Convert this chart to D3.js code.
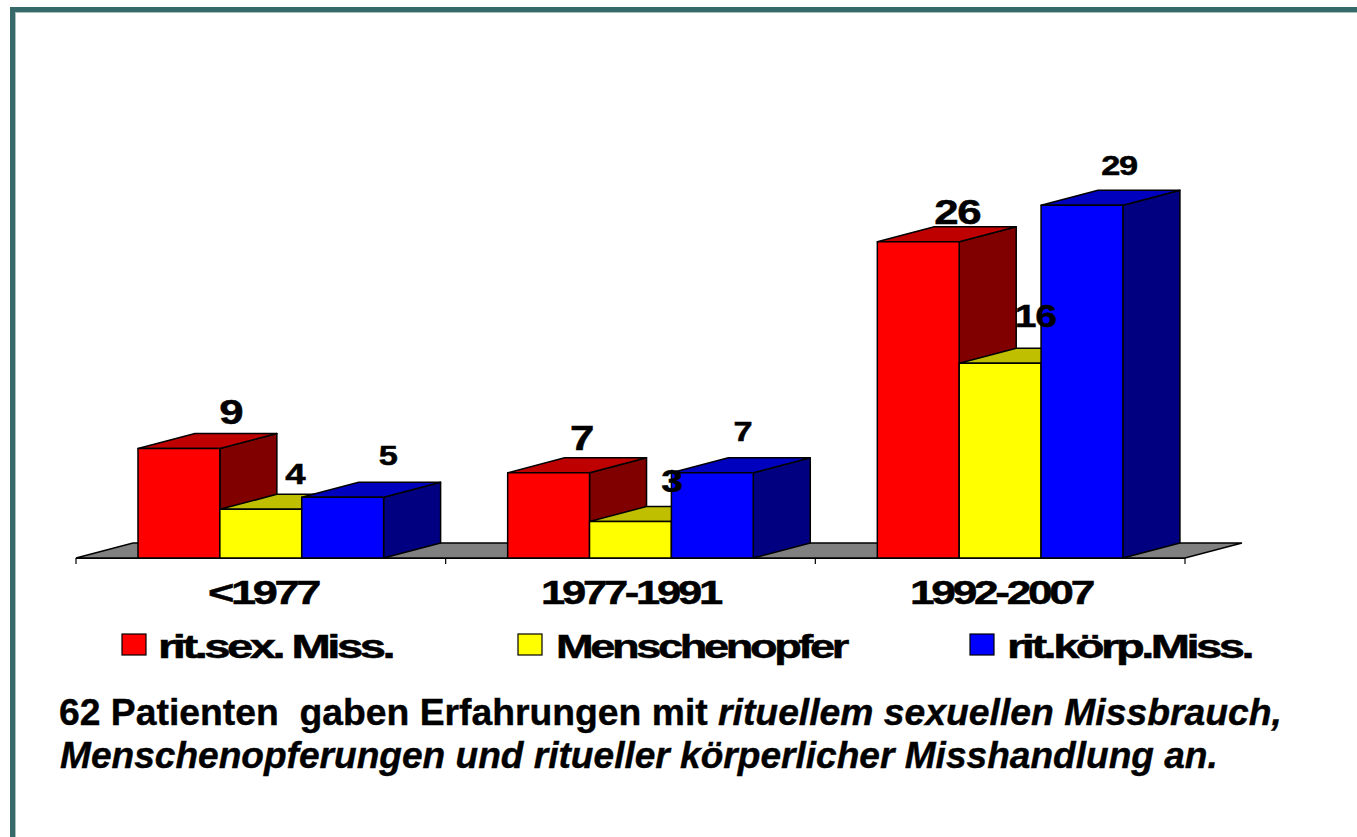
<!DOCTYPE html>
<html><head><meta charset="utf-8">
<script src="https://cdn.jsdelivr.net/npm/d3@7"></script>
<style>html,body{margin:0;padding:0;background:#fff}svg{display:block}text{font-family:"Liberation Sans",Arial,sans-serif;font-weight:bold;fill:#000}</style>
</head><body><svg id="c" width="1357" height="837"></svg>
<script>
const categories = ["<1977", "1977-1991", "1992-2007"];
const seriesNames = ["rit.sex. Miss.", "Menschenopfer", "rit.körp.Miss."];
const sexValues = [9, 7, 26];
const opferValues = [4, 3, 16];
const koerpValues = [5, 7, 29];
const captionLine1 = [["62 Patienten  gaben Erfahrungen mit ", false], ["rituellem sexuellen Missbrauch,", true]];
const captionLine2 = "Menschenopferungen und ritueller körperlicher Misshandlung an.";

const allValues = [sexValues, opferValues, koerpValues];
const colors = [
  {front:"#ff0000", top:"#bf0000", side:"#800000"},
  {front:"#ffff00", top:"#bfbf00", side:"#808000"},
  {front:"#0000ff", top:"#0000bf", side:"#000080"}];
const svg = d3.select("#c");
const baseY = 558, dx = 57, dy = -15;
const x0 = d3.scaleBand().domain(categories).range([76, 1185]);
const x1 = d3.scaleBand().domain(seriesNames).range([62, 307.6]);
const y = d3.scaleLinear().domain([0, 30]).range([baseY, baseY - 365]);

// frame
svg.append("rect").attr("x",15.5).attr("y",12.5).attr("width",1400).attr("height",900).attr("fill","none").attr("stroke","#a9c0bd").attr("stroke-width",1);
svg.append("rect").attr("x",10).attr("y",7).attr("width",5).attr("height",830).attr("fill","#38696a");
svg.append("rect").attr("x",10).attr("y",7).attr("width",1347).attr("height",5).attr("fill","#38696a");

// floor
const line = d3.line();
svg.append("path").attr("d", line([[76,baseY],[76+dx,baseY+dy],[1185+dx,baseY+dy],[1185,baseY]])+"Z")
  .attr("fill","#808080").attr("stroke","#000").attr("stroke-width",1.3);
// axis
const axis = d3.axisBottom(d3.scaleLinear().domain([0,3]).range([75.5,1184.5])).tickValues([0,1,2,3]).tickFormat("").tickSize(6).tickSizeOuter(0);
const ag = svg.append("g").attr("transform",`translate(0,${baseY})`).call(axis);
ag.selectAll("path,line").attr("stroke","#000").attr("stroke-width",1.2);

// bars
const sw = 1.5;
categories.forEach((cat,i)=>{
  seriesNames.forEach((s,j)=>{
    const v = allValues[j][i], c = colors[j];
    const l = x0(cat)+x1(s), r = l+x1.bandwidth(), t = y(v), b = y(0);
    const g = svg.append("g").attr("stroke","#000").attr("stroke-width",sw).attr("stroke-linejoin","round");
    g.append("path").attr("d",line([[r,t],[r+dx,t+dy],[r+dx,b+dy],[r,b]])+"Z").attr("fill",c.side);
    g.append("path").attr("d",line([[l,t],[l+dx,t+dy],[r+dx,t+dy],[r,t]])+"Z").attr("fill",c.top);
    g.append("rect").attr("x",l).attr("y",t).attr("width",r-l).attr("height",b-t).attr("fill",c.front);
  });
});

// stretched text helper: fits the string between two x positions
function fit(str, xa, xb, yy, size, ls){
  return svg.append("text").attr("x",xa).attr("y",yy).attr("font-size",size)
    .attr("letter-spacing",ls).attr("textLength",xb-xa).attr("lengthAdjust","spacingAndGlyphs")
    .attr("stroke","#000").attr("stroke-width",0.5).text(str);
}
// value labels: [centre offset from bar centre, baseline offset from bar top, size]
const labelPlace = [
 [[52,-25,35],[33,-23,35],[39,-18,35]],
 [[34,-25,29],[41,-30,31],[35,-36,31]],
 [[45,-32,27],[30,-32,27],[37,-30,27]]];
seriesNames.forEach((s,j)=>categories.forEach((cat,i)=>{
  const v = allValues[j][i], p = labelPlace[j][i];
  const cx = x0(cat)+x1(s)+x1.bandwidth()/2+p[0];
  const w = String(v).length*p[2]*0.66;
  fit(String(v), cx-w/2, cx+w/2, y(v)+p[1], p[2], -1);
}));
// category labels
const catSpan = [[208,318],[541,720],[910,1092]];
categories.forEach((c,i)=>fit(c,catSpan[i][0],catSpan[i][1],604,33.5,-2.5));
// legend
const legSwatch = [122,518,970], legText = [[158,392],[556,846],[1007,1251]];
seriesNames.forEach((s,j)=>{
  svg.append("rect").attr("x",legSwatch[j]).attr("y",634).attr("width",24).attr("height",21)
    .attr("fill",colors[j].front).attr("stroke","#000").attr("stroke-width",1.2);
  fit(s,legText[j][0],legText[j][1],658,33.5,-2.5);
});
// caption
const t1 = svg.append("text").attr("x",59).attr("y",725).attr("font-size",37.3).attr("stroke","#000").attr("stroke-width",0.4).style("white-space","pre");
captionLine1.forEach(([txt,it])=>t1.append("tspan").attr("font-style",it?"italic":"normal").text(txt));
svg.append("text").attr("x",60).attr("y",768).attr("font-size",37.1).attr("stroke","#000").attr("stroke-width",0.4).attr("font-style","italic").text(captionLine2);
</script></body></html>
